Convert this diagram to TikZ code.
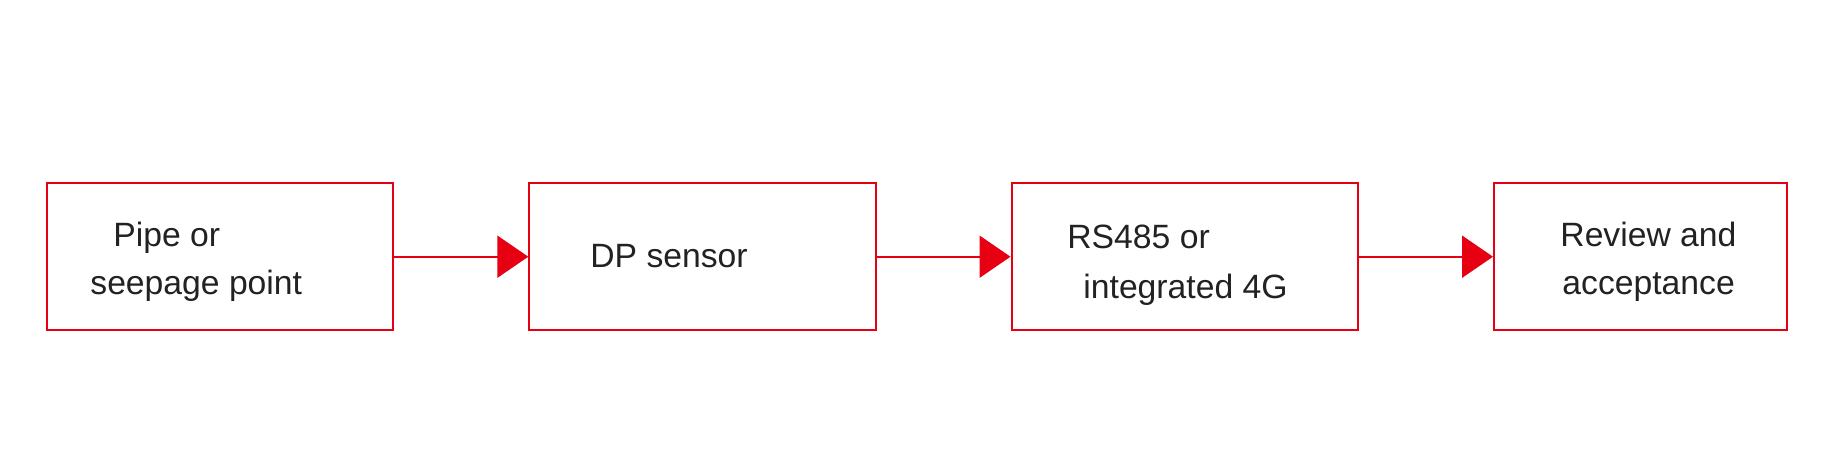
\documentclass[tikz,border=0pt]{standalone}
\usepackage{fontspec}
\setmainfont{Liberation Sans}
\usetikzlibrary{arrows.meta}
\definecolor{flowred}{HTML}{E60012}
\definecolor{inkgrey}{HTML}{222222}

\begin{document}
\begin{tikzpicture}[x=0.5pt, y=-0.5pt,
    stagebox/.style={draw=flowred, line width=1pt, minimum height=73.3pt, inner sep=0pt},
    boxtext/.style={anchor=base west, inner sep=0pt, text=inkgrey, font=\fontsize{16.85pt}{20pt}\selectfont},
    flow/.style={draw=flowred, line width=1pt, -{Triangle[length=15.5pt, width=21pt]}}]
    \useasboundingbox (0,0) rectangle (1824,467);

    % Stage boxes
    \node[stagebox, minimum width=173.3pt] (pipe) at (220,256.7) {};
    \node[stagebox, minimum width=173.2pt] (dp) at (702.5,256.7) {};
    \node[stagebox, minimum width=173pt] (comm) at (1184.5,256.7) {};
    \node[stagebox, minimum width=146.6pt] (review) at (1640.6,256.7) {};

    % Labels
    \node[boxtext] (pipeA) at (113,246) {Pipe or};
    \node[boxtext] (pipeB) at (90,294) {seepage point};
    \node[boxtext] (dpA) at (590,267) {DP sensor};
    \node[boxtext] (commA) at (1067,248) {RS485 or};
    \node[boxtext] (commB) at (1083,298) {integrated 4G};
    \node[boxtext] (reviewA) at (1560,246) {Review and};
    \node[boxtext] (reviewB) at (1562,294) {acceptance};

    % Arrows
    \draw[flow] (pipe.east) -- (dp.west);
    \draw[flow] (dp.east) -- (comm.west);
    \draw[flow] (comm.east) -- (review.west);
\end{tikzpicture}
\end{document}
